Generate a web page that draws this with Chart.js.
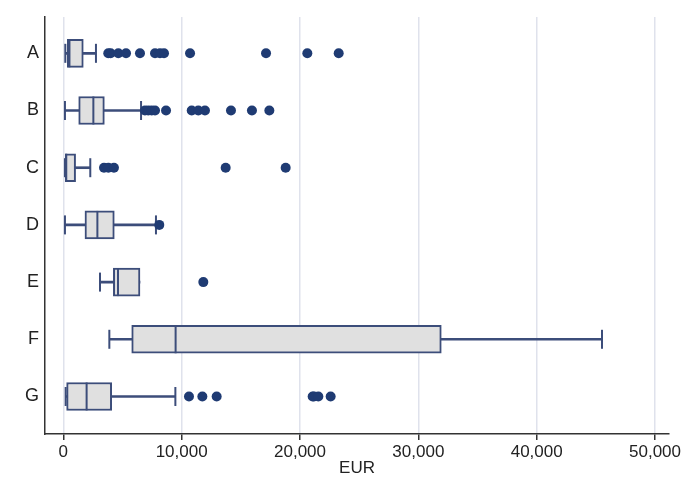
<!DOCTYPE html>
<html>
<head>
<meta charset="utf-8">
<script src="https://cdn.jsdelivr.net/npm/chart.js@4"></script>
<style>
  html, body { margin: 0; padding: 0; background: #fff; }
  #wrap { width: 685px; height: 489px; }
</style>
</head>
<body>
<div id="wrap"><canvas id="box"></canvas></div>
<script>
const categories = ['A', 'B', 'C', 'D', 'E', 'F', 'G'];
const lowerWhisker = [170, 140, 140, 140, 3100, 3890, 200];
const q1 = [340, 1300, 170, 1830, 4230, 5780, 280];
const medians = [520, 2540, 250, 2880, 4620, 9490, 1970];
const q3 = [1690, 3470, 1040, 4310, 6480, 31940, 4090];
const upperWhisker = [2760, 6570, 2280, 7830, 6480, 45520, 9470];
const outliers = [
  [3800, 4000, 4650, 5300, 6480, 7750, 8170, 8510, 10710, 17130, 20620, 23270],
  [6900, 7180, 7470, 7750, 8680, 10850, 11410, 11970, 14170, 15940, 17410],
  [3440, 3810, 4280, 13720, 18790],
  [8110],
  [11830],
  [],
  [10620, 11750, 12960, 21070, 21180, 21550, 22590]
];
const xTicks = [0, 10000, 20000, 30000, 40000, 50000];

const navy = '#3c4d7a';
const dotNavy = '#1f3b73';

const whiskerData = categories.map((c, i) => ({ x: [lowerWhisker[i], upperWhisker[i]], y: i }));
const boxData = categories.map((c, i) => ({ x: [q1[i], q3[i]], y: i }));
const medianData = categories.map((c, i) => ({ x: medians[i], y: i }));
const capData = [];
categories.forEach((c, i) => {
  capData.push({ x: lowerWhisker[i], y: i });
  if (upperWhisker[i] > q3[i]) capData.push({ x: upperWhisker[i], y: i });
});
const outlierData = [];
outliers.forEach((arr, i) => arr.forEach(v => outlierData.push({ x: v, y: i })));

new Chart(document.getElementById('box'), {
  type: 'bar',
  data: {
    datasets: [
      {
        type: 'scatter',
        data: outlierData,
        pointRadius: 5,
        pointBackgroundColor: dotNavy,
        pointBorderWidth: 0,
        order: 1
      },
      {
        type: 'scatter',
        data: medianData,
        pointStyle: 'line',
        rotation: 90,
        pointRadius: 14,
        pointBorderColor: navy,
        pointBorderWidth: 2,
        order: 1
      },
      {
        type: 'scatter',
        data: capData,
        pointStyle: 'line',
        rotation: 90,
        pointRadius: 9.5,
        pointBorderColor: navy,
        pointBorderWidth: 2,
        order: 2
      },
      {
        indexAxis: 'y',
        data: boxData,
        grouped: false,
        barThickness: 28,
        backgroundColor: '#e0e0e0',
        borderColor: navy,
        borderWidth: 2,
        borderSkipped: false,
        order: 2
      },
      {
        indexAxis: 'y',
        data: whiskerData,
        grouped: false,
        barThickness: 2,
        backgroundColor: navy,
        borderWidth: 0,
        order: 3
      }
    ]
  },
  options: {
    responsive: true,
    maintainAspectRatio: false,
    animation: false,
    events: [],
    layout: { padding: { top: 17, right: 13, left: 0, bottom: 0 } },
    plugins: { legend: { display: false }, tooltip: { enabled: false } },
    scales: {
      x: {
        type: 'linear',
        position: 'bottom',
        offset: false,
        min: -1546,
        max: 51180,
        afterBuildTicks: s => { s.ticks = xTicks.map(v => ({ value: v })); },
        afterFit: s => { s.height = 55; },
        ticks: {
          color: '#222',
          padding: 2,
          maxRotation: 0,
          font: { family: 'Liberation Sans', size: 17 },
          callback: v => v.toLocaleString('en-US')
        },
        grid: { offset: false, color: '#dfe2ec', lineWidth: 1.5, tickColor: '#333', tickLength: 6 },
        border: { color: '#333', width: 1.5 },
        title: {
          display: true,
          text: 'EUR',
          color: '#222',
          padding: { top: 0, bottom: 10 },
          font: { family: 'Liberation Sans', size: 17 }
        }
      },
      y: {
        type: 'linear',
        position: 'left',
        offset: false,
        reverse: true,
        min: -0.635,
        max: 6.656,
        afterBuildTicks: s => { s.ticks = categories.map((c, i) => ({ value: i })); },
        afterFit: s => { s.width = 45; },
        ticks: {
          color: '#222',
          padding: 6,
          font: { family: 'Liberation Sans', size: 18 },
          callback: v => categories[v]
        },
        grid: { display: false, offset: false, drawTicks: false },
        border: { color: '#333', width: 1.5 }
      }
    }
  }
});
</script>
</body>
</html>
